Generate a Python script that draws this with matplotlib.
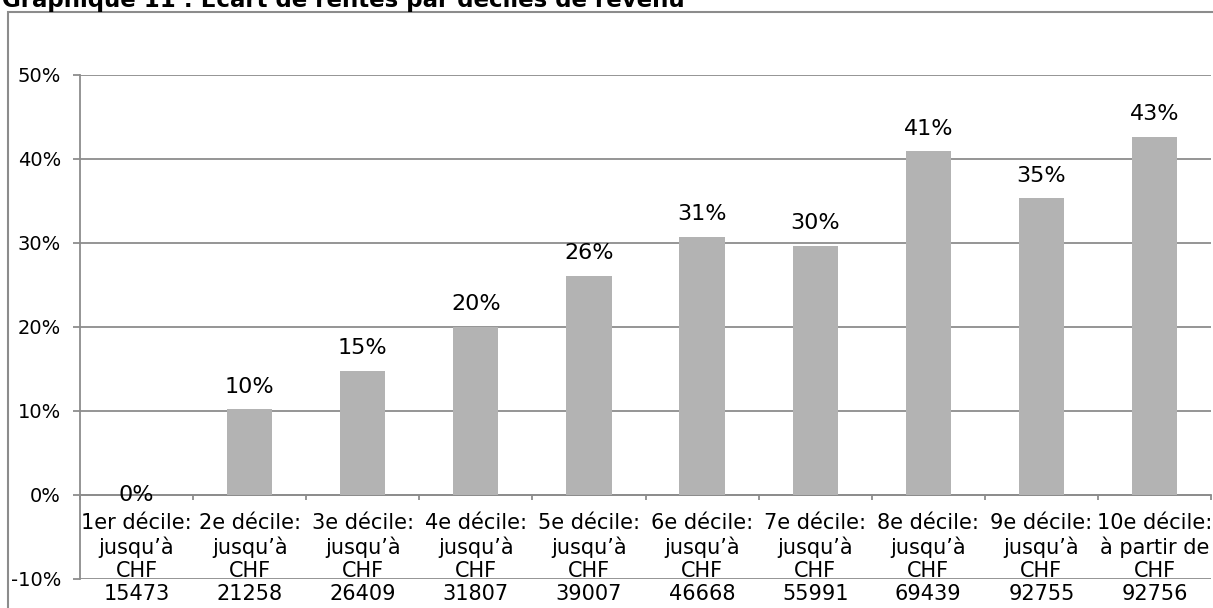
import matplotlib
matplotlib.use("Agg")
import matplotlib.pyplot as plt
import numpy as np
from matplotlib.patches import Rectangle
from matplotlib.ticker import FuncFormatter

plt.rcParams['font.family'] = ['DejaVu Sans']

# données
deciles = ["1er décile:\njusqu’à\nCHF\n15473", "2e décile:\njusqu’à\nCHF\n21258",
           "3e décile:\njusqu’à\nCHF\n26409", "4e décile:\njusqu’à\nCHF\n31807",
           "5e décile:\njusqu’à\nCHF\n39007", "6e décile:\njusqu’à\nCHF\n46668",
           "7e décile:\njusqu’à\nCHF\n55991", "8e décile:\njusqu’à\nCHF\n69439",
           "9e décile:\njusqu’à\nCHF\n92755", "10e décile:\nà partir de\nCHF\n92756"]
ecart = [0.0, 10.2, 14.8, 20.0, 26.1, 30.7, 29.7, 40.9, 35.3, 42.6]
yticks = [-10, 0, 10, 20, 30, 40, 50]

W, H = 1213, 608
fig = plt.figure(figsize=(W / 100, H / 100), dpi=100)
gris = '#8c8c8c'

# cadre extérieur
fig.patches.append(Rectangle((8 / W, -0.1), 1.2, 1 - 12 / H + 0.1, transform=fig.transFigure,
                             fill=False, edgecolor=gris, linewidth=1.5))
fig.text(2 / W, 1 - 7 / H, "Graphique 11 : Ecart de rentes par déciles de revenu",
         fontsize=16.5, fontweight='bold', ha='left', va='baseline')

ax = fig.add_axes([80 / W, 1 - 579 / H, (1211 - 80) / W, (579 - 75) / H])
x = np.arange(len(ecart))
ax.bar(x, ecart, width=0.40, color='#b3b3b3', zorder=3)

for xi, v in zip(x, ecart):
    if v == 0:
        ax.text(xi, v, f"{v:.0f}%", ha='center', va='center', fontsize=16, zorder=4)
    else:
        ax.annotate(f"{v:.0f}%", (xi, v), xytext=(0, 12), textcoords='offset points',
                    ha='center', va='baseline', fontsize=16, zorder=4)

ax.set_xlim(-0.5, len(ecart) - 0.5)
ax.set_ylim(-10, 50)
ax.set_yticks(yticks)
ax.yaxis.set_major_formatter(FuncFormatter(lambda v, p: f"{v:.0f}%"))
ax.grid(axis='y', color=gris, linewidth=1.3, zorder=0)
ax.set_axisbelow(True)

ax.set_xticks(x)
ax.set_xticks(np.arange(len(ecart) + 1) - 0.5, minor=True)
ax.set_xticklabels(deciles)
ax.tick_params(axis='x', which='major', length=0, pad=13, labelsize=15)
ax.tick_params(axis='x', which='minor', length=3.6, width=1.3, color=gris, direction='out')
ax.tick_params(axis='y', length=5, width=1.3, color=gris, labelsize=14, pad=8.6)
for lab in ax.get_xticklabels():
    lab.set_linespacing(1.0)

ax.spines['top'].set_visible(False)
ax.spines['right'].set_visible(False)
ax.spines['bottom'].set_position(('data', 0))
ax.spines['bottom'].set_color(gris)
ax.spines['bottom'].set_linewidth(1.3)
ax.spines['left'].set_color(gris)
ax.spines['left'].set_linewidth(1.3)

fig.savefig("out.png", dpi=100)
